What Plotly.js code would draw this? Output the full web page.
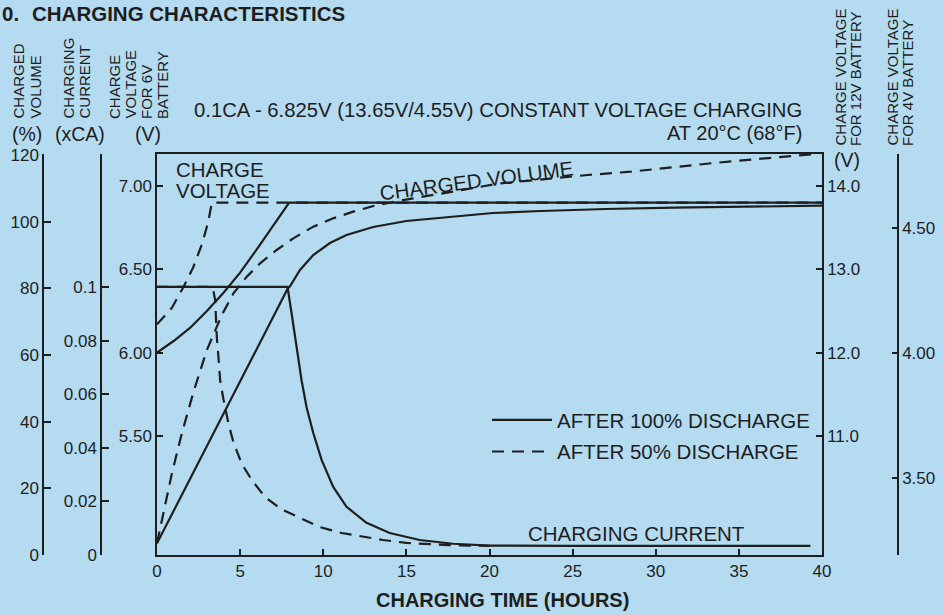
<!DOCTYPE html>
<html>
<head>
<meta charset="utf-8">
<script src="https://cdn.plot.ly/plotly-3.0.1.min.js"></script>
<style>
  html, body { margin: 0; padding: 0; background: #b4dbf0; }
  #chart { width: 943px; height: 615px; }
</style>
</head>
<body>
<div id="chart"></div>
<script>
// ---------------- DATA ----------------
// Charge voltage for 6V battery (V)
const volt100Hours = [0, 1, 2, 3, 4, 5, 6, 7, 7.95, 40];
const volt100Values = [6.00, 6.07, 6.15, 6.25, 6.36, 6.48, 6.62, 6.76, 6.90, 6.90];
const volt50Hours = [0, 0.45, 0.9, 1.57, 2.17, 2.7, 3.07, 3.3, 40];
const volt50Values = [6.17, 6.22, 6.27, 6.39, 6.51, 6.65, 6.78, 6.90, 6.90];

// Charging current (xCA)
const curr100Hours = [0, 7.85, 8.1, 8.4, 8.7, 9.0, 9.4, 9.9, 10.6, 11.4, 12.6, 14.0, 15.8, 17.8, 20, 25, 30, 35, 39.3];
const curr100Values = [0.1, 0.1, 0.090, 0.078, 0.065, 0.055, 0.0455, 0.0355, 0.0254, 0.018, 0.012, 0.0082, 0.0056, 0.0042, 0.0035, 0.0034, 0.0034, 0.0034, 0.0034];
const curr50Hours = [0, 3.35, 3.5, 3.6, 3.7, 3.8, 4.0, 4.3, 4.6, 5.1, 5.7, 6.5, 7.5, 8.6, 9.8, 11.1, 12.4, 13.6, 15.0, 16.3, 17.5, 20];
const curr50Values = [0.1, 0.1, 0.095, 0.081, 0.0735, 0.065, 0.058, 0.049, 0.042, 0.034, 0.028, 0.0216, 0.017, 0.0138, 0.0104, 0.0082, 0.0067, 0.0056, 0.0045, 0.004, 0.0037, 0.0034];

// Charged volume (%)
const vol100Hours = [0, 7.85, 8.0, 8.6, 9.4, 10.4, 11.4, 13.0, 15.0, 17.5, 20.2, 23.1, 27, 31.1, 35, 40];
const vol100Values = [3.5, 79.8, 80.6, 85.5, 90, 93.6, 96, 98.4, 100.2, 101.4, 102.6, 103.2, 103.8, 104.2, 104.5, 104.8];
const vol50Hours = [0, 0.4, 0.9, 1.5, 2.2, 3.0, 3.9, 4.6, 5.4, 6.2, 7.2, 8.2, 9.4, 10.6, 11.8, 13.25, 15.4, 17.8, 20.5, 23, 25.9, 28.5, 31.1, 33.5, 36.1, 38.7, 39.6];
const vol50Values = [3.5, 12.6, 24.6, 36.6, 49, 61.5, 72, 78.5, 83.5, 87.5, 91.5, 95, 98.5, 101, 103, 105, 107, 109, 111.4, 112.6, 114, 115, 116.4, 117.6, 118.8, 120, 120.3];

// Tick labels
const hourTicks = [0, 5, 10, 15, 20, 25, 30, 35, 40];
const volumeTicks = [0, 20, 40, 60, 80, 100, 120];
const currentTicks = [0, 0.02, 0.04, 0.06, 0.08, 0.1];
const currentTickText = ['0', '0.02', '0.04', '0.06', '0.08', '0.1'];
const volt6Ticks = [5.5, 6.0, 6.5, 7.0];
const volt6TickText = ['5.50', '6.00', '6.50', '7.00'];
const volt12Ticks = [11, 12, 13, 14];
const volt12TickText = ['11.0', '12.0', '13.0', '14.0'];
const volt4Ticks = [3.5, 4.0, 4.5];
const volt4TickText = ['3.50', '4.00', '4.50'];

const seriesNames = ['AFTER 100% DISCHARGE', 'AFTER 50% DISCHARGE'];

// ---------------- LAYOUT HELPERS ----------------
const W = 943, H = 615;
const px = v => v / W;
const py = v => 1 - v / H;
const INK = '#1e1e1e';
const BG = '#b4dbf0';
const FONT = 'Liberation Sans, Arial, Helvetica, sans-serif';
const LW = 2.2;
const DASH = '12px,8px';

// plot area (pixels)
const plotL = 157, plotR = 822, plotT = 154, plotB = 555;

// axis ranges derived from tick positions
const v6Range = [4.786, 7.192];
const v12Range = [v6Range[0] * 2, v6Range[1] * 2];
const v4Range = [v6Range[0] * 2 / 3, v6Range[1] * 2 / 3];
const volRange = [0, 120.3];
const curRange = [0, 0.1496];

function lineTrace(x, y, yaxis, dashed, name, showlegend) {
  return {
    type: 'scatter', mode: 'lines', x: x, y: y, yaxis: yaxis,
    name: name, legendgroup: name, showlegend: showlegend,
    line: { color: INK, width: LW, dash: dashed ? DASH : 'solid' },
    hoverinfo: 'x+y'
  };
}

const data = [
  lineTrace(curr100Hours, curr100Values, 'y3', false, seriesNames[0], true),
  lineTrace(curr50Hours, curr50Values, 'y3', true, seriesNames[1], true),
  lineTrace(volt100Hours, volt100Values, 'y', false, seriesNames[0], false),
  lineTrace(volt50Hours, volt50Values, 'y', true, seriesNames[1], false),
  lineTrace(vol100Hours, vol100Values, 'y2', false, seriesNames[0], false),
  lineTrace(vol50Hours, vol50Values, 'y2', true, seriesNames[1], false),
  // empty traces so the 12V and 4V scales are attached to the subplot
  { type: 'scatter', mode: 'lines', x: [], y: [], yaxis: 'y4', showlegend: false, hoverinfo: 'skip' },
  { type: 'scatter', mode: 'lines', x: [], y: [], yaxis: 'y5', showlegend: false, hoverinfo: 'skip' }
];

const axisCommon = {
  showline: true, linecolor: INK, linewidth: 1.5,
  ticks: 'inside', tickcolor: INK, tickwidth: 1.5, ticklen: 6,
  showgrid: false, zeroline: false,
  tickfont: { family: FONT, size: 17, color: INK },
  fixedrange: true
};
const yDomain = [py(plotB), py(plotT)];

function ann(text, x, y, opts) {
  return Object.assign({
    text: text, x: px(x), y: py(y), xref: 'paper', yref: 'paper',
    showarrow: false, xanchor: 'center', yanchor: 'middle',
    font: { family: FONT, size: 20.5, color: INK }
  }, opts || {});
}
function rot(text, x, yBottom) {
  return ann(text, x, yBottom, { textangle: -90, yanchor: 'bottom',
    font: { family: FONT, size: 15, color: INK } });
}

const annotations = [
  ann('0.', 0, 14, { xanchor: 'left', font: { family: FONT, size: 20.5, color: INK, weight: 'bold' } }),
  ann('CHARGING CHARACTERISTICS', 30, 14, { xanchor: 'left', font: { family: FONT, size: 20.5, color: INK, weight: 'bold' } }),
  // left axis titles
  rot('CHARGED', 18, 121), rot('VOLUME', 35, 121),
  rot('CHARGING', 68, 121), rot('CURRENT', 84, 121),
  rot('CHARGE', 114, 121), rot('VOLTAGE', 130, 121), rot('FOR 6V', 146, 121), rot('BATTERY', 162, 121),
  ann('(%)', 27, 134, { font: { family: FONT, size: 19.5, color: INK } }),
  ann('(xCA)', 80, 134, { font: { family: FONT, size: 19.5, color: INK } }),
  ann('(V)', 148, 134, { font: { family: FONT, size: 19.5, color: INK } }),
  // right axis titles
  rot('CHARGE VOLTAGE', 840, 148), rot('FOR 12V BATTERY', 855, 148),
  rot('CHARGE VOLTAGE', 892, 148), rot('FOR 4V BATTERY', 907, 148),
  ann('(V)', 847, 160, { font: { family: FONT, size: 19.5, color: INK } }),
  // subtitle
  ann('0.1CA - 6.825V (13.65V/4.55V) CONSTANT VOLTAGE CHARGING', 804, 110, { xanchor: 'right', font: { family: FONT, size: 20.3, color: INK } }),
  ann('AT 20°C (68°F)', 804, 133, { xanchor: 'right', font: { family: FONT, size: 20, color: INK } }),
  // curve labels
  ann('CHARGE', 174, 169.5, { xanchor: 'left' }),
  ann('VOLTAGE', 174, 190.5, { xanchor: 'left' }),
  ann('CHARGED VOLUME', 476, 180, { textangle: -7.5 }),
  ann('CHARGING CURRENT', 526, 533, { xanchor: 'left' }),
  // x axis title
  ann('CHARGING TIME (HOURS)', 502, 600, { font: { family: FONT, size: 20, color: INK, weight: 'bold' } })
];

const layout = {
  width: W, height: H,
  margin: { l: 0, r: 0, t: 0, b: 0, pad: 0 },
  paper_bgcolor: BG, plot_bgcolor: BG,
  font: { family: FONT, color: INK },
  showlegend: true,
  legend: {
    x: px(487), y: py(400), xanchor: 'left', yanchor: 'top',
    bgcolor: 'rgba(0,0,0,0)', borderwidth: 0,
    font: { family: FONT, size: 20.5, color: INK },
    itemwidth: 60, traceorder: 'grouped', tracegroupgap: 2
  },
  xaxis: Object.assign({}, axisCommon, {
    domain: [px(plotL), px(plotR)], range: [0, 40],
    tickvals: hourTicks, mirror: true, anchor: 'y'
  }),
  yaxis: Object.assign({}, axisCommon, {
    domain: yDomain, range: v6Range, side: 'left', anchor: 'x',
    tickvals: volt6Ticks, ticktext: volt6TickText
  }),
  yaxis2: Object.assign({}, axisCommon, {
    overlaying: 'y', anchor: 'free', position: px(43), side: 'left',
    range: volRange, tickvals: volumeTicks, ticklen: 7
  }),
  yaxis3: Object.assign({}, axisCommon, {
    overlaying: 'y', anchor: 'free', position: px(101), side: 'left',
    range: curRange, tickvals: currentTicks.concat([curRange[1] - 0.0003]),
    ticktext: currentTickText.concat(['']), ticklen: 7
  }),
  yaxis4: Object.assign({}, axisCommon, {
    overlaying: 'y', anchor: 'x', side: 'right',
    range: v12Range, tickvals: volt12Ticks, ticktext: volt12TickText
  }),
  yaxis5: Object.assign({}, axisCommon, {
    overlaying: 'y', anchor: 'free', position: px(898), side: 'right',
    range: v4Range, tickvals: [v4Range[0] + 0.004].concat(volt4Ticks, [v4Range[1] - 0.004]),
    ticktext: [''].concat(volt4TickText, ['']), ticklen: 5
  }),
  annotations: annotations
};

Plotly.newPlot('chart', data, layout, { displayModeBar: false, responsive: false });
</script>
</body>
</html>
